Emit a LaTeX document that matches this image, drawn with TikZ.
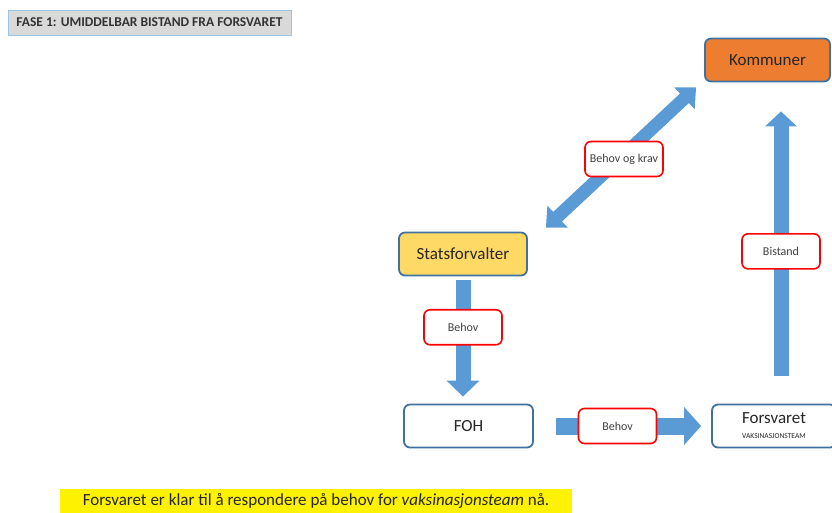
\documentclass[tikz,border=0pt]{standalone}
\usepackage{fontspec}
\setmainfont{Carlito}
\usetikzlibrary{arrows.meta,calc}
\definecolor{boxblue}{HTML}{41719C}
\definecolor{arrowblue}{HTML}{5B9BD5}
\definecolor{kommorange}{HTML}{ED7D31}
\definecolor{statsgul}{HTML}{FFD966}
\definecolor{titlegrey}{HTML}{D9D9D9}
\definecolor{titleline}{HTML}{9DC3E6}
\definecolor{txtgrey}{HTML}{404040}

\begin{document}
\begin{tikzpicture}[x=1pt,y=-1pt,
	actor/.style={draw=boxblue,line width=1.8pt,rounded corners=6pt,minimum width=127pt,minimum height=43pt,font=\fontsize{17}{19}\selectfont,text=black!85},
	tag/.style={draw=red,fill=white,line width=1.6pt,rounded corners=6pt,minimum width=78pt,minimum height=35pt,font=\fontsize{12}{14}\selectfont,text=txtgrey},
	blockarrow/.style={draw=arrowblue,line width=15pt}]
		\useasboundingbox (0,0) rectangle (832,513);
		\node[draw=titleline,fill=titlegrey,line width=0.8pt,minimum width=283pt,minimum height=25pt,font=\fontsize{13.5}{15}\selectfont\bfseries,text=black!80] (fase) at (149.5,22.5) {FASE 1: UMIDDELBAR BISTAND FRA FORSVARET};
		\node[actor,fill=kommorange,minimum width=125pt] (kommuner) at (767.5,60) {Kommuner};
		\node[actor,fill=statsgul,minimum width=128pt] (statsforvalter) at (463,254) {Statsforvalter};
		\node[actor,fill=white,minimum width=129pt] (foh) at (468.5,426) {FOH};
		\node[actor,fill=white,minimum width=124pt,align=center] (forsvaret) at (774,426) {Forsvaret\\[-4pt]{\fontsize{7.5}{8}\selectfont VAKSINASJONSTEAM}};
		\draw[blockarrow,line width=13pt,{Triangle[width=29pt,length=16pt]}-{Triangle[width=29pt,length=16pt]}] ($(statsforvalter.north east)+(18,-4)$) -- ($(kommuner.south west)+(-8,5)$) node[tag,midway,xshift=3pt,yshift=-1.5pt] (behovkrav) {Behov og krav};
		\draw[blockarrow,-{Triangle[width=32pt,length=16pt]},shorten <=4pt,shorten >=7pt] (statsforvalter.south) -- (statsforvalter.south |- foh.north) node[tag,pos=0.4] (behovned) {Behov};
		\draw[blockarrow,line width=17pt,-{Triangle[width=37pt,length=17pt]},shorten <=22pt,shorten >=10pt] (foh.east) -- (forsvaret.west) node[tag,midway,xshift=-5pt] (behovbort) {Behov};
		\draw[blockarrow,-{Triangle[width=31pt,length=15pt]},shorten <=28pt,shorten >=29pt] ([xshift=7pt]forsvaret.north) -- ([xshift=7pt]forsvaret.north |- kommuner.south) node[tag,pos=0.474] (bistand) {Bistand};
		\node[fill=yellow,minimum width=512pt,minimum height=24pt,font=\fontsize{17}{19}\selectfont,text=black!85] (melding) at (316,501) {Forsvaret er klar til å respondere på behov for \textit{vaksinasjonsteam} nå.};
	\end{tikzpicture}
\end{document}
